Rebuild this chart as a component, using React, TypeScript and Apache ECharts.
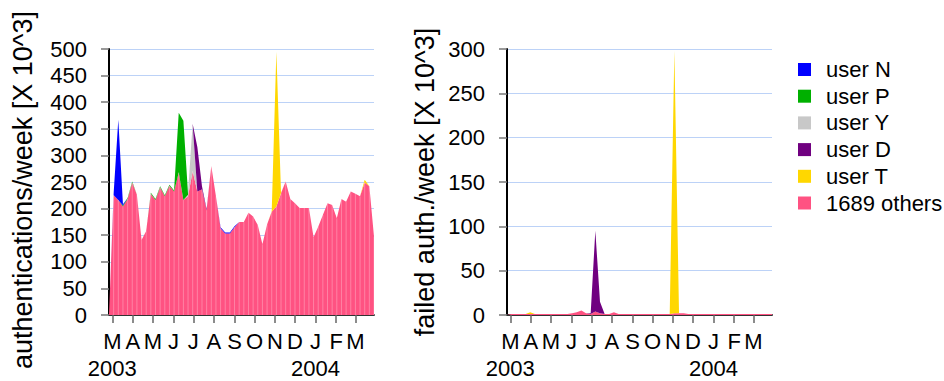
import React, { useEffect, useRef } from "react";
import * as echarts from "echarts";

// ---- data (weekly, starting week of 2003-02-24) ----
const firstWeek = "2003-02-24";

const seriesNames = ["user N", "user P", "user Y", "user D", "user T", "1689 others"];
const seriesColors = ["#0000ff", "#00b000", "#c8c8c8", "#700080", "#ffd700", "#ff5282"];

// authentications/week [x 10^3]
const othersAuth = [
  0, 225, 216, 204, 218, 249, 226, 141, 158, 228,
  216, 240, 223, 243, 232, 268, 216, 223, 270, 232,
  236, 197, 280, 223, 163, 153, 153, 165, 175, 175,
  192, 185, 169, 133, 170, 194, 204, 229, 251, 218,
  210, 201, 201, 201, 146, 166, 188, 210, 207, 182,
  218, 213, 232, 228, 223, 249, 242, 147,
];
const userTAuth = [
  0, 0, 0, 0, 0, 0, 0, 0, 0, 0,
  0, 0, 0, 0, 0, 0, 0, 0, 0, 0,
  0, 0, 0, 0, 0, 0, 0, 0, 0, 0,
  0, 0, 0, 0, 0, 1, 291, 1, 0, 0,
  0, 0, 0, 0, 0, 0, 0, 0, 0, 0,
  0, 0, 0, 0, 0, 5, 0, 0,
];
const userYAuth = [
  0, 0, 0, 0, 0, 0, 0, 0, 0, 0,
  0, 0, 0, 0, 0, 0, 0, 3, 88, 0,
  0, 0, 0, 0, 0, 0, 0, 0, 0, 0,
  0, 0, 0, 0, 0, 0, 0, 0, 0, 0,
  0, 0, 0, 0, 0, 0, 0, 0, 0, 0,
  0, 0, 0, 0, 0, 0, 0, 0,
];
const userDAuth = [
  0, 0, 0, 0, 0, 0, 0, 0, 0, 0,
  0, 0, 0, 0, 0, 0, 0, 0, 1, 84,
  6, 2, 0, 0, 0, 0, 0, 0, 0, 0,
  0, 0, 0, 0, 0, 0, 0, 0, 0, 0,
  0, 0, 0, 0, 0, 0, 0, 0, 0, 0,
  0, 0, 0, 0, 0, 0, 0, 0,
];
const userPAuth = [
  0, 0, 0, 2, 2, 2, 0, 0, 0, 2,
  2, 2, 2, 2, 2, 112, 149, 2, 0, 0,
  0, 0, 0, 0, 0, 0, 0, 0, 0, 0,
  0, 0, 0, 0, 0, 0, 0, 0, 0, 0,
  0, 0, 0, 0, 0, 0, 0, 0, 0, 0,
  0, 0, 0, 0, 0, 0, 0, 0,
];
const userNAuth = [
  0, 4, 151, 2, 0, 0, 0, 0, 0, 0,
  0, 0, 0, 0, 0, 0, 0, 0, 0, 0,
  0, 0, 0, 0, 2, 2, 2, 2, 0, 0,
  0, 0, 0, 0, 0, 0, 0, 0, 0, 0,
  0, 0, 0, 0, 0, 0, 0, 0, 0, 0,
  0, 0, 0, 0, 0, 0, 0, 0,
];

// failed auth./week [x 10^3]
const othersFail = [
  0, 1, 1, 1, 1, 1, 1, 1, 1, 1,
  1, 1, 1, 1, 2, 3, 5, 2, 1, 4,
  2, 1, 1, 3, 1, 1, 1, 1, 1, 1,
  1, 1, 1, 1, 1, 1, 2, 2, 2, 1,
  1, 1, 1, 1, 1, 1, 1, 1, 1, 1,
  1, 1, 1, 1, 1, 1, 1, 1,
];
const userTFail = [
  0, 0, 0, 0, 0, 2, 0, 0, 0, 0,
  0, 0, 0, 0, 0, 0, 0, 0, 0, 0,
  0, 0, 0, 0, 0, 0, 0, 0, 0, 0,
  0, 0, 0, 0, 0, 0, 296, 0, 0, 0,
  0, 0, 0, 0, 0, 0, 0, 0, 0, 0,
  0, 0, 0, 0, 0, 0, 0, 0,
];
const userDFail = [
  0, 0, 0, 0, 0, 0, 0, 0, 0, 0,
  0, 0, 0, 0, 0, 0, 0, 0, 1, 91,
  13, 0, 0, 0, 0, 0, 0, 0, 0, 0,
  0, 0, 0, 0, 0, 0, 0, 0, 0, 0,
  0, 0, 0, 0, 0, 0, 0, 0, 0, 0,
  0, 0, 0, 0, 0, 0, 0, 0,
];
const zeroFail = othersFail.map(() => 0);

// x-axis ticks (month starts) and their labels
const monthTicks = [
  "2003-03-01", "2003-04-01", "2003-05-01", "2003-06-01", "2003-07-01",
  "2003-08-01", "2003-09-01", "2003-10-01", "2003-11-01", "2003-12-01",
  "2004-01-01", "2004-02-01", "2004-03-01",
];
const monthLabels = ["M", "A", "M", "J", "J", "A", "S", "O", "N", "D", "J", "F", "M"];
const yearTicks = ["2003-03-01", "2004-01-01"];
const yearLabels = ["2003", "2004"];

const leftTitle = "authentications/week [X 10^3]";
const rightTitle = "failed auth./week [X 10^3]";

const FONT = "'Liberation Sans', Arial, Helvetica, sans-serif";
const DAY = 86400000;

function utc(s: string) {
  return Date.parse(s + "T00:00:00Z");
}

function nearestIndex(list: number[], v: number) {
  let best = 0;
  let bd = Infinity;
  list.forEach((t, i) => {
    const d = Math.abs(t - v);
    if (d < bd) {
      bd = d;
      best = i;
    }
  });
  return best;
}

export default function App() {
  const ref = useRef<HTMLDivElement>(null);

  useEffect(() => {
    if (!ref.current) return;
    const chart = echarts.init(ref.current, undefined, { renderer: "svg" });

    const t0 = utc(firstWeek);
    const nWeeks = othersAuth.length;
    const weekCats = othersAuth.map((_, i) =>
      new Date(t0 + i * 7 * DAY).toISOString().slice(0, 10)
    );
    // month starts expressed in "weeks since first week"
    const toWeeks = (s: string) => (utc(s) - t0) / (7 * DAY);
    const tickPos = monthTicks.map(toWeeks);
    const yearPos = yearTicks.map(toWeeks);

    const authSets = [userNAuth, userPAuth, userYAuth, userDAuth, userTAuth, othersAuth];
    const failSets = [zeroFail, zeroFail, zeroFail, userDFail, userTFail, othersFail];
    // stacking order bottom -> top
    const stackOrder = [5, 4, 2, 3, 1, 0];

    const series: any[] = [];
    [authSets, failSets].forEach((sets, g) => {
      stackOrder.forEach((k) => {
        series.push({
          type: "line",
          name: seriesNames[k],
          xAxisIndex: g * 3,
          yAxisIndex: g,
          stack: "s" + g,
          data: sets[k].slice(),
          showSymbol: false,
          symbol: "none",
          silent: true,
          color: seriesColors[k],
          lineStyle: { width: 0, opacity: 0, color: seriesColors[k] },
          areaStyle: { color: seriesColors[k], opacity: 1 },
          itemStyle: { color: seriesColors[k] },
          z: 2,
        });
      });
    });
    // light vertical seams in the "others" area (left panel)
    series.push({
      type: "bar",
      name: "seams",
      xAxisIndex: 0,
      yAxisIndex: 0,
      data: othersAuth.slice(),
      barWidth: 1,
      silent: true,
      itemStyle: { color: "rgba(255,255,255,0.28)" },
      z: 3,
    });

    const catAxis = (g: number) => ({
      type: "category",
      gridIndex: g,
      data: weekCats,
      boundaryGap: false,
      show: false,
      axisLine: { show: false },
      axisTick: { show: false },
      axisLabel: { show: false },
      splitLine: { show: false },
    });

    const monthAxis = (g: number) => ({
      type: "value",
      gridIndex: g,
      min: 0,
      max: nWeeks - 1,
      position: "bottom",
      axisLine: { show: true, onZero: false, lineStyle: { color: "#333", width: 2 } },
      axisTick: {
        show: true,
        customValues: tickPos,
        length: 8,
        lineStyle: { color: "#666", width: 1.5 },
      },
      axisLabel: {
        customValues: tickPos,
        formatter: (v: number) => monthLabels[nearestIndex(tickPos, v)],
        fontSize: 22,
        lineHeight: 25,
        color: "#000",
        fontFamily: FONT,
        margin: 14,
        hideOverlap: false,
        showMinLabel: true,
        showMaxLabel: true,
      },
      splitLine: { show: false },
    });

    const yearAxis = (g: number) => ({
      type: "value",
      gridIndex: g,
      min: 0,
      max: nWeeks - 1,
      position: "bottom",
      axisLine: { show: false, onZero: false },
      axisTick: { show: false },
      axisLabel: {
        customValues: yearPos,
        formatter: (v: number) => yearLabels[nearestIndex(yearPos, v)],
        fontSize: 22,
        lineHeight: 25,
        color: "#000",
        fontFamily: FONT,
        margin: 41,
        hideOverlap: false,
        showMinLabel: true,
        showMaxLabel: true,
      },
      splitLine: { show: false },
    });

    const yAxisBase = (g: number, max: number, title: string, gap: number, pad: number[]) => ({
      type: "value",
      gridIndex: g,
      min: 0,
      max,
      interval: 50,
      name: title,
      nameLocation: "middle",
      nameGap: gap,
      nameTextStyle: { fontSize: 27, color: "#000", fontFamily: FONT, padding: pad },
      axisLine: { show: true, lineStyle: { color: "#000", width: 2 } },
      axisTick: { show: true, length: 8, lineStyle: { color: "#777", width: 1.5 } },
      axisLabel: { fontSize: 22, color: "#000", fontFamily: FONT, margin: 22 },
      splitLine: { show: true, lineStyle: { color: "#bcd2f7", width: 1.2 } },
    });

    chart.setOption({
      animation: false,
      backgroundColor: "#fff",
      textStyle: { fontFamily: FONT },
      grid: [
        { left: 109, top: 49, width: 265, height: 266, containLabel: false, outerBoundsMode: "none" },
        { left: 507, top: 49, width: 265, height: 266, containLabel: false, outerBoundsMode: "none" },
      ],
      xAxis: [catAxis(0), monthAxis(0), yearAxis(0), catAxis(1), monthAxis(1), yearAxis(1)],
      yAxis: [
        yAxisBase(0, 500, leftTitle, 73, [0, 16, 0, 0]),
        yAxisBase(1, 300, rightTitle, 69, [0, 0, 0, 0]),
      ],
      legend: {
        data: seriesNames,
        orient: "vertical",
        left: 798,
        top: 58.5,
        padding: 0,
        icon: "rect",
        itemWidth: 13,
        itemHeight: 13,
        itemGap: 4.7,
        selectedMode: false,
        textStyle: { fontSize: 22, color: "#000", fontFamily: FONT, lineHeight: 22, padding: [0, 0, 0, 10] },
      },
      series,
    });

    return () => chart.dispose();
  }, []);

  return (
    <div
      ref={ref}
      style={{ position: "fixed", left: 0, top: 0, width: 944, height: 381, background: "#fff" }}
    />
  );
}
